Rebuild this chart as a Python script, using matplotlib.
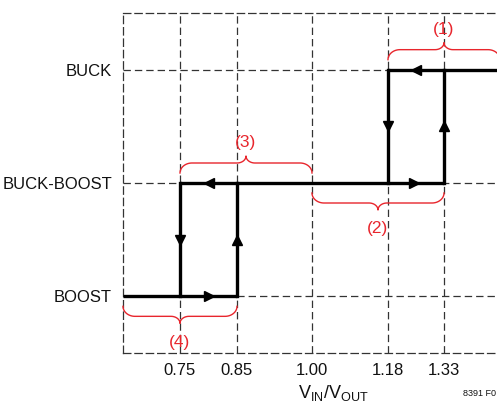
import numpy as np
import matplotlib.pyplot as plt

plt.rcParams['font.family'] = ['Liberation Sans', 'DejaVu Sans']
plt.rcParams['mathtext.fontset'] = 'custom'
plt.rcParams['mathtext.rm'] = 'Liberation Sans'

# operating modes, bottom to top
modes = ["BOOST", "BUCK-BOOST", "BUCK"]
# VIN/VOUT thresholds on the x axis
ratio_ticks = [0.75, 0.85, 1.00, 1.18, 1.33]
x_left, x_right = 0.65, 1.48

# horizontal runs: (from ratio, to ratio, mode level)
runs = [(0.65, 0.85, 0), (0.75, 1.33, 1), (1.18, 1.48, 2)]
# mode switches: (ratio, from level, to level)
steps = [(0.85, 0, 1), (1.33, 1, 2), (1.18, 2, 1), (0.75, 1, 0)]
# direction arrows on the runs: (ratio, level, marker)
run_arrows = [(0.80, 0, ">"), (0.80, 1, "<"), (1.25, 1, ">"), (1.255, 2, "<")]
# red braces: (from ratio, to ratio, level, side, label)
braces = [(1.18, 1.48, 2, 1, "(1)"),
          (1.00, 1.33, 1, -1, "(2)"),
          (0.75, 1.00, 1, 1, "(3)"),
          (0.65, 0.85, 0, -1, "(4)")]

# the x axis is a schematic, not to scale
breaks = [x_left] + ratio_ticks + [x_right]
layout = [0, 57, 114, 189, 265, 321, 377]


def forward(v):
    return np.interp(v, breaks, layout)


def inverse(p):
    return np.interp(p, layout, breaks)


W, H = 497, 404
fig = plt.figure(figsize=(W / 100, H / 100), dpi=100)
ax = fig.add_axes([123 / W, (H - 353) / H, 377 / W, 340 / H])
ax.set_xscale("function", functions=(forward, inverse))
ax.set_xlim(x_left, x_right)
ax.set_ylim(-0.5, 2.5)

dash = (0, (5.9, 3.2))
grey = "#333333"
ax.set_xticks(ratio_ticks, [f"{v:.2f}" for v in ratio_ticks])
ax.set_yticks([0, 1, 2], modes)
ax.grid(True, linestyle=dash, color=grey, linewidth=0.9)
ax.tick_params(length=0, labelsize=12, colors="#111111")
ax.tick_params(axis="x", pad=7)
ax.tick_params(axis="y", pad=8)
for side in ["left", "top", "bottom"]:
    ax.spines[side].set_linestyle(dash)
    ax.spines[side].set_linewidth(0.9)
    ax.spines[side].set_color(grey)
ax.spines["right"].set_visible(False)

lw = 2.4
for x0, x1, lev in runs:
    ax.plot([x0, x1], [lev, lev], color="black", lw=lw, solid_capstyle="butt", zorder=3)
for x, y0, y1 in steps:
    ax.plot([x, x], [y0, y1], color="black", lw=lw, solid_capstyle="projecting", zorder=3)
    mk = "^" if y1 > y0 else "v"
    ax.plot(x, (y0 + y1) / 2, marker=mk, color="black", ms=7.5, zorder=4)
for x, lev, mk in run_arrows:
    ax.plot(x, lev, marker=mk, color="black", ms=7.5, zorder=4)

# braces, built in layout pixels then mapped back to data
py = 3 / 340
red = "#e8262d"
t = np.linspace(0, np.pi / 2, 25)
for x0, x1, lev, sd, label in braces:
    a, b = forward(x0), forward(x1)
    m = (a + b) / 2
    e = lev + sd * 10 * py
    f = lev + sd * 20 * py
    c = lev + sd * 27 * py
    r, r2 = 12, 9
    xs = np.concatenate([a + r - r * np.cos(t), m - r2 + r2 * np.sin(t)])
    ys = np.concatenate([e + (f - e) * np.sin(t), c + (f - c) * np.cos(t)])
    xs = np.concatenate([xs, (a + b - xs)[::-1]])
    ys = np.concatenate([ys, ys[::-1]])
    ax.plot(inverse(xs), ys, color=red, lw=1.0, zorder=5, clip_on=False)
    off = 40 if sd > 0 else 46
    ax.text(inverse(m), lev + sd * off * py, label,
            color=red, fontsize=12.5, ha="center", va="center", zorder=5)

fig.text(333 / W, 1 - 393 / H, r"V$_{\mathrm{IN}}$/V$_{\mathrm{OUT}}$",
         ha="center", va="center", fontsize=13, color="#111111")
fig.text(463 / W, 1 - 394 / H, "8391 F0", ha="left", va="center",
         fontsize=6.5, color="#111111")

fig.savefig("out.png", dpi=100)
